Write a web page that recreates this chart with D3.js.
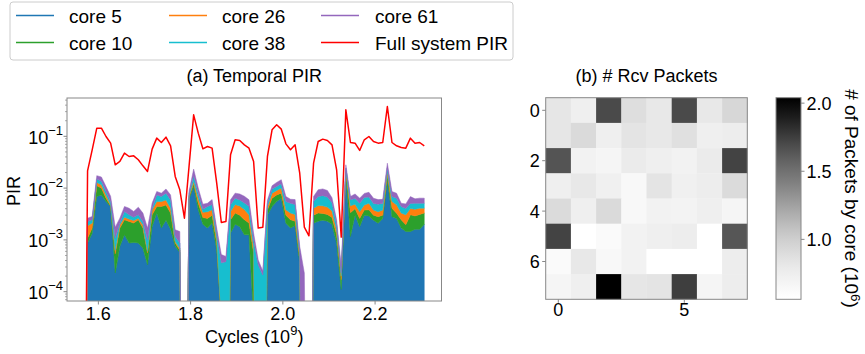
<!DOCTYPE html>
<html>
<head>
<meta charset="utf-8">
<script src="https://cdn.jsdelivr.net/npm/d3@7"></script>
<style>
  body { margin: 0; background: #fff; }
  text { font-family: "Liberation Sans", Arial, sans-serif; fill: #000; }
</style>
</head>
<body>
<div id="chart"></div>
<script>
// sample times (10^9 cycles), evenly spaced
const cycleStart = 1.5666;
const cycleStep = 0.01;

// per-core PIR, stacked bottom to top
const core5 = [0, 0.00087, 0.00135, 0.0069, 0.0074, 0.0055, 0.0044, 0.00023, 0.00075, 0.00125, 0.00087,
  0.00089, 0.00087, 0.00069, 0.00033, 0.00182, 0.0033, 0.0017, 0.0024, 0.0016, 0.00075,
  0.00057, 0, 0.0061, 0.0108, 0.0038, 0.002, 0.0017, 0.0021, 0.00064, 0.00003,
  0, 0.00135, 0.002, 0.0018, 0.00125, 0.00125, 0.00003, 0, 0, 0.003,
  0.0044, 0.0055, 0.0064, 0.0021, 0.0017, 0.0019, 0.00036, 0, 0, 0.0021,
  0.0023, 0.0024, 0.0023, 0.002, 0.00087, 0.00011, 0.018, 0.00116, 0.003, 0.0018,
  0.003, 0.0029, 0.0024, 0.0021, 0.0026, 0.0145, 0.0028, 0.0026, 0.0017, 0.00145,
  0.00145, 0.0016, 0.0016, 0.002];
const core10 = [0, 0.00021, 0.00034, 0.0042, 0.0026, 0.0009, 0.00013, 0.00031, 0.00094, 0.00119, 0.0014,
  0.00122, 0.00157, 0.001, 0.00023, 0.00123, 0.0011, 0.0027, 0.0023, 0.0017, 0.00012,
  0.00006, 0, 0.0006, 0.0014, 0.0013, 0.0007, 0.0009, 0.0009, 0.00023, 0,
  0, 0.0011, 0.0013, 0.0012, 0.0012, 0.00086, 0.00053, 0, 0, 0.00076,
  0.002, 0.0019, 0.0016, 0.0009, 0.00075, 0.0004, 0.00008, 0, 0, 0.0009,
  0.001, 0.00085, 0.0008, 0.0007, 0.00038, 0.00006, 0.002, 0.0022, 0.001, 0.0008,
  0.00076, 0.0009, 0.0006, 0.0007, 0.0004, 0.0036, 0.0013, 0.00066, 0.00075, 0.0005,
  0.0016, 0.0013, 0.0015, 0.0013];
const core26 = [0, 0.00079, 0.00042, 0.0018, 0.0016, 0.001, 0.0002, 0.00009, 0.00027, 0.00031, 0.00025,
  0.00026, 0.00019, 0.00027, 0.00004, 0.00076, 0.0011, 0.0011, 0.0012, 0.0008, 0.00006,
  0.00006, 0, 0.0004, 0.0013, 0.0013, 0.0007, 0.0009, 0.0008, 0.00021, 0,
  0, 0.0011, 0.0015, 0.0015, 0.0014, 0.00094, 0.00019, 0, 0, 0.0006,
  0.0016, 0.0016, 0.002, 0.0008, 0.00085, 0.0008, 0.00008, 0, 0, 0.0011,
  0.0013, 0.0013, 0.0012, 0.0009, 0.00032, 0.00003, 0.0019, 0.0012, 0.0009, 0.0009,
  0.00095, 0.0013, 0.00076, 0.0007, 0.00076, 0.0029, 0.0014, 0.0015, 0.00085, 0.0011,
  0.001, 0.001, 0.001, 0.0008];
const core38 = [0, 0.0004, 0.00033, 0.0021, 0.0019, 0.0012, 0.0008, 0.00045, 0.00015, 0.00079, 0.00053,
  0.00038, 0.00042, 0.00031, 0.0004, 0.00029, 0.0019, 0.0014, 0.0021, 0.0018, 0.00023,
  0.00018, 0, 0.0007, 0.0038, 0.0016, 0.0005, 0.0009, 0.001, 0.00027, 0.00033,
  0.00038, 0.0012, 0.0016, 0.0014, 0.0013, 0.0014, 0.00025, 0.00033, 0.00021, 0.0007,
  0.0016, 0.0018, 0.0021, 0.0017, 0.0018, 0.0017, 0.00008, 0, 0, 0.0014,
  0.0023, 0.0026, 0.0024, 0.0016, 0.00039, 0.00003, 0.0024, 0.0014, 0.0014, 0.0016,
  0.0019, 0.0016, 0.0013, 0.0014, 0.0013, 0.0033, 0.0014, 0.0016, 0.0011, 0.001,
  0.001, 0.0012, 0.001, 0.001];
const core61 = [0, 0.00036, 0.00039, 0.0024, 0.0029, 0.0021, 0.0014, 0.00068, 0.00052, 0.00088, 0.00105,
  0.00079, 0.00124, 0.00102, 0.00069, 0.00103, 0.0012, 0.0011, 0.0016, 0.0015, 0.00041,
  0.00058, 0, 0.0009, 0.006, 0.002, 0.001, 0.0007, 0.0012, 0.00034, 0.00016,
  0.0001, 0.0012, 0.0016, 0.0018, 0.0018, 0.0015, 0.00035, 0.00008, 0.00004, 0.0008,
  0.0015, 0.0021, 0.0024, 0.0014, 0.001, 0.0012, 0.00015, 0.00023, 0, 0.0014,
  0.0024, 0.0025, 0.0023, 0.0013, 0.00048, 0.00008, 0.0039, 0.00095, 0.0014, 0.0013,
  0.0013, 0.0016, 0.0013, 0.0011, 0.001, 0.006, 0.0017, 0.0016, 0.0007, 0.0009,
  0.0018, 0.0011, 0.0013, 0.0013];
const pirFull = [0, 0.0216, 0.0549, 0.1438, 0.1438, 0.0992, 0.0738, 0.0282, 0.0327, 0.0473, 0.0408,
  0.042, 0.0352, 0.0269, 0.021, 0.0565, 0.0922, 0.076, 0.0964, 0.0656, 0.0168,
  0.00927, 0.00263, 0.0262, 0.26, 0.1151, 0.0574, 0.0636, 0.0591, 0.0125, 0.00217,
  0.00227, 0.0439, 0.0856, 0.0831, 0.0685, 0.0591, 0.0327, 0.00169, 0.00176, 0.0408,
  0.1335, 0.1667, 0.1375, 0.0716, 0.0549, 0.0685, 0.0194, 0.00176, 0.0012, 0.0303,
  0.0795, 0.0882, 0.0831, 0.0685, 0.0226, 0.00113, 0.325, 0.076, 0.0738, 0.0533,
  0.0856, 0.0992, 0.0795, 0.0738, 0.076, 0.377, 0.076, 0.0656, 0.0609, 0.0591,
  0.0922, 0.0738, 0.076, 0.0656];

const seriesNames = ['core 5', 'core 10', 'core 26', 'core 38', 'core 61'];
const seriesColors = ['#1f77b4', '#2ca02c', '#ff7f0e', '#17becf', '#9467bd'];
const fullName = 'Full system PIR';
const xTicks = [1.6, 1.8, 2.0, 2.2];
const yTicks = [1e-4, 1e-3, 1e-2, 1e-1];

// received packets per core (10^6), 8x8 mesh, row by row
const rcvPackets = [
  [0.82, 0.74, 1.70, 0.89, 0.81, 1.70, 0.81, 0.94],
  [0.82, 0.92, 0.74, 0.84, 0.81, 0.87, 0.74, 0.76],
  [1.65, 0.71, 0.68, 0.78, 0.74, 0.71, 0.78, 1.73],
  [0.74, 0.81, 0.73, 0.65, 0.84, 0.73, 0.76, 0.91],
  [0.91, 0.74, 0.92, 0.65, 0.71, 0.70, 0.74, 0.68],
  [1.73, 0.56, 0.62, 0.71, 0.74, 0.76, 0.56, 1.64],
  [0.62, 0.81, 0.65, 0.71, 0.56, 0.56, 0.56, 0.76],
  [0.68, 0.74, 2.04, 0.82, 0.84, 1.75, 0.68, 0.76]
];
const heatRowTicks = [0, 2, 4, 6];
const heatColTicks = [0, 5];
const cbarTicks = [1.0, 1.5, 2.0];

const W = 865, H = 354;
const spine = '#888';
const svg = d3.select('#chart').append('svg').attr('width', W).attr('height', H);

// ---------- (a) temporal PIR ----------
const pa = { left: 67, right: 441.5, top: 98, bottom: 301 };
const x = d3.scaleLinear().domain([1.532, 2.344]).range([pa.left, pa.right]);
const y = d3.scaleLog().domain([Math.pow(10, -4.18), Math.pow(10, -0.26)]).range([pa.bottom, pa.top]);
const yPos = v => y(Math.max(v, 1e-12)); // zeros drop far below like mpl clip

svg.append('clipPath').attr('id', 'clipA').append('rect')
  .attr('x', pa.left).attr('y', pa.top)
  .attr('width', pa.right - pa.left).attr('height', pa.bottom - pa.top);

const cycles = pirFull.map((_, i) => cycleStart + i * cycleStep);
const cols = [core5, core10, core26, core38, core61];
const table = cycles.map((c, i) => {
  const row = { c: c };
  seriesNames.forEach((k, j) => row[k] = cols[j][i]);
  return row;
});
const stacked = d3.stack().keys(seriesNames)(table);

const area = d3.area()
  .x(d => x(d.data.c))
  .y0(d => yPos(d[0]))
  .y1(d => yPos(d[1]));

const plot = svg.append('g').attr('clip-path', 'url(#clipA)');
plot.selectAll('path.layer')
  .data(stacked)
  .join('path')
  .attr('class', 'layer')
  .attr('d', area)
  .attr('fill', (d, i) => seriesColors[i])
  .attr('stroke', (d, i) => seriesColors[i])
  .attr('stroke-width', 0.5);

const line = d3.line().x((d, i) => x(cycles[i])).y(d => yPos(d));
plot.append('path')
  .attr('d', line(pirFull))
  .attr('fill', 'none')
  .attr('stroke', '#ff0000')
  .attr('stroke-width', 1.5)
  .attr('stroke-linejoin', 'round');

svg.append('rect')
  .attr('x', pa.left).attr('y', pa.top)
  .attr('width', pa.right - pa.left).attr('height', pa.bottom - pa.top)
  .attr('fill', 'none').attr('stroke', spine);

// x ticks
const gx = svg.append('g');
xTicks.forEach(t => {
  gx.append('line').attr('x1', x(t)).attr('x2', x(t))
    .attr('y1', pa.bottom).attr('y2', pa.bottom + 3.5).attr('stroke', spine);
  gx.append('text').attr('x', x(t)).attr('y', 320)
    .attr('text-anchor', 'middle').style('font-size', '18px')
    .text(d3.format('.1f')(t));
});

// y ticks (log)
const gy = svg.append('g');
const [ymin, ymax] = y.domain();
for (let e = -5; e <= 0; e++) {
  for (let m = 1; m <= 9; m++) {
    const v = m * Math.pow(10, e);
    if (v < ymin || v > ymax) continue;
    gy.append('line').attr('x1', pa.left - (m === 1 ? 3.5 : 2)).attr('x2', pa.left)
      .attr('y1', y(v)).attr('y2', y(v)).attr('stroke', spine).attr('stroke-width', m === 1 ? 1 : 0.7);
  }
}
yTicks.forEach(t => {
  const txt = gy.append('text').attr('x', 63).attr('y', y(t) + 7.5)
    .attr('text-anchor', 'end').style('font-size', '18px');
  txt.append('tspan').text('10');
  txt.append('tspan').attr('dy', -9).style('font-size', '13px').text('\u2212' + Math.round(-Math.log10(t)));
});

svg.append('text').attr('transform', 'translate(20,191) rotate(-90)')
  .attr('text-anchor', 'middle').style('font-size', '18px').text('PIR');

const xl = svg.append('text').attr('x', (pa.left + pa.right) / 2).attr('y', 343)
  .attr('text-anchor', 'middle').style('font-size', '18px');
xl.append('tspan').text('Cycles (10');
xl.append('tspan').attr('dy', -8).style('font-size', '13px').text('9');
xl.append('tspan').attr('dy', 8).text(')');

svg.append('text').attr('x', (pa.left + pa.right) / 2).attr('y', 82)
  .attr('text-anchor', 'middle').style('font-size', '18px').text('(a) Temporal PIR');

// ---------- legend ----------
const leg = svg.append('g');
leg.append('rect').attr('x', 10).attr('y', 2).attr('width', 503).attr('height', 58).attr('rx', 3)
  .attr('fill', '#fff').attr('fill-opacity', 0.8).attr('stroke', '#ccc');
const legItems = seriesNames.map((n, i) => ({ name: n, color: seriesColors[i] }))
  .concat([{ name: fullName, color: '#ff0000' }]);
const legLineX = [16, 169, 321], legTextX = [69, 222, 375], legRowY = [15.5, 42.5];
legItems.forEach((it, i) => {
  const c = Math.floor(i / 2), r = i % 2;
  leg.append('line').attr('x1', legLineX[c]).attr('x2', legLineX[c] + 38)
    .attr('y1', legRowY[r]).attr('y2', legRowY[r])
    .attr('stroke', it.color).attr('stroke-width', 1.5);
  leg.append('text').attr('x', legTextX[c]).attr('y', legRowY[r] + 7)
    .style('font-size', '19px').text(it.name);
});

// ---------- (b) heatmap ----------
const hm = { left: 545.7, top: 97.7, size: 201.6 };
const n = rcvPackets.length;
const hx = d3.scaleBand().domain(d3.range(n)).range([hm.left, hm.left + hm.size]);
const hy = d3.scaleBand().domain(d3.range(n)).range([hm.top, hm.top + hm.size]);
const ext = d3.extent(rcvPackets.flat());
const color = d3.scaleSequential(d3.interpolateGreys).domain(ext);

const cells = rcvPackets.flatMap((row, r) => row.map((v, c) => ({ r, c, v })));
svg.append('g').selectAll('rect')
  .data(cells)
  .join('rect')
  .attr('x', d => hx(d.c)).attr('y', d => hy(d.r))
  .attr('width', hx.bandwidth() + 0.3).attr('height', hy.bandwidth() + 0.3)
  .attr('fill', d => color(d.v));
svg.append('rect').attr('x', hm.left).attr('y', hm.top)
  .attr('width', hm.size).attr('height', hm.size)
  .attr('fill', 'none').attr('stroke', spine);

heatRowTicks.forEach(t => {
  const yy = hy(t) + hy.bandwidth() / 2;
  svg.append('line').attr('x1', hm.left - 3.5).attr('x2', hm.left).attr('y1', yy).attr('y2', yy).attr('stroke', spine);
  svg.append('text').attr('x', hm.left - 6).attr('y', yy + 6.5)
    .attr('text-anchor', 'end').style('font-size', '18px').text(t);
});
heatColTicks.forEach(t => {
  const xx = hx(t) + hx.bandwidth() / 2;
  svg.append('line').attr('x1', xx).attr('x2', xx)
    .attr('y1', hm.top + hm.size).attr('y2', hm.top + hm.size + 3.5).attr('stroke', spine);
  svg.append('text').attr('x', xx).attr('y', 316)
    .attr('text-anchor', 'middle').style('font-size', '18px').text(t);
});

svg.append('text').attr('x', hm.left + hm.size / 2).attr('y', 82)
  .attr('text-anchor', 'middle').style('font-size', '18px').text('(b) # Rcv Packets');

// colorbar
const cb = { left: 776, right: 801, top: 97.7, bottom: 299.3 };
const cy = d3.scaleLinear().domain(ext).range([cb.bottom, cb.top]);
const grad = svg.append('defs').append('linearGradient').attr('id', 'cbGrad')
  .attr('x1', 0).attr('y1', 1).attr('x2', 0).attr('y2', 0);
d3.range(0, 1.0001, 0.05).forEach(f => {
  grad.append('stop').attr('offset', f)
    .attr('stop-color', color(ext[0] + f * (ext[1] - ext[0])));
});
svg.append('rect').attr('x', cb.left).attr('y', cb.top)
  .attr('width', cb.right - cb.left).attr('height', cb.bottom - cb.top)
  .attr('fill', 'url(#cbGrad)').attr('stroke', spine);
cbarTicks.forEach(t => {
  svg.append('line').attr('x1', cb.right).attr('x2', cb.right + 3.5)
    .attr('y1', cy(t)).attr('y2', cy(t)).attr('stroke', spine);
  svg.append('text').attr('x', cb.right + 5.5).attr('y', cy(t) + 6.5)
    .style('font-size', '18px').text(d3.format('.1f')(t));
});
const cl = svg.append('text').attr('transform', `translate(845,${(cb.top + cb.bottom) / 2}) rotate(90)`)
  .attr('text-anchor', 'middle').style('font-size', '19px');
cl.append('tspan').text('# of Packets by core (10');
cl.append('tspan').attr('dy', -6).style('font-size', '13.5px').text('6');
cl.append('tspan').attr('dy', 6).text(')');
</script>
</body>
</html>
